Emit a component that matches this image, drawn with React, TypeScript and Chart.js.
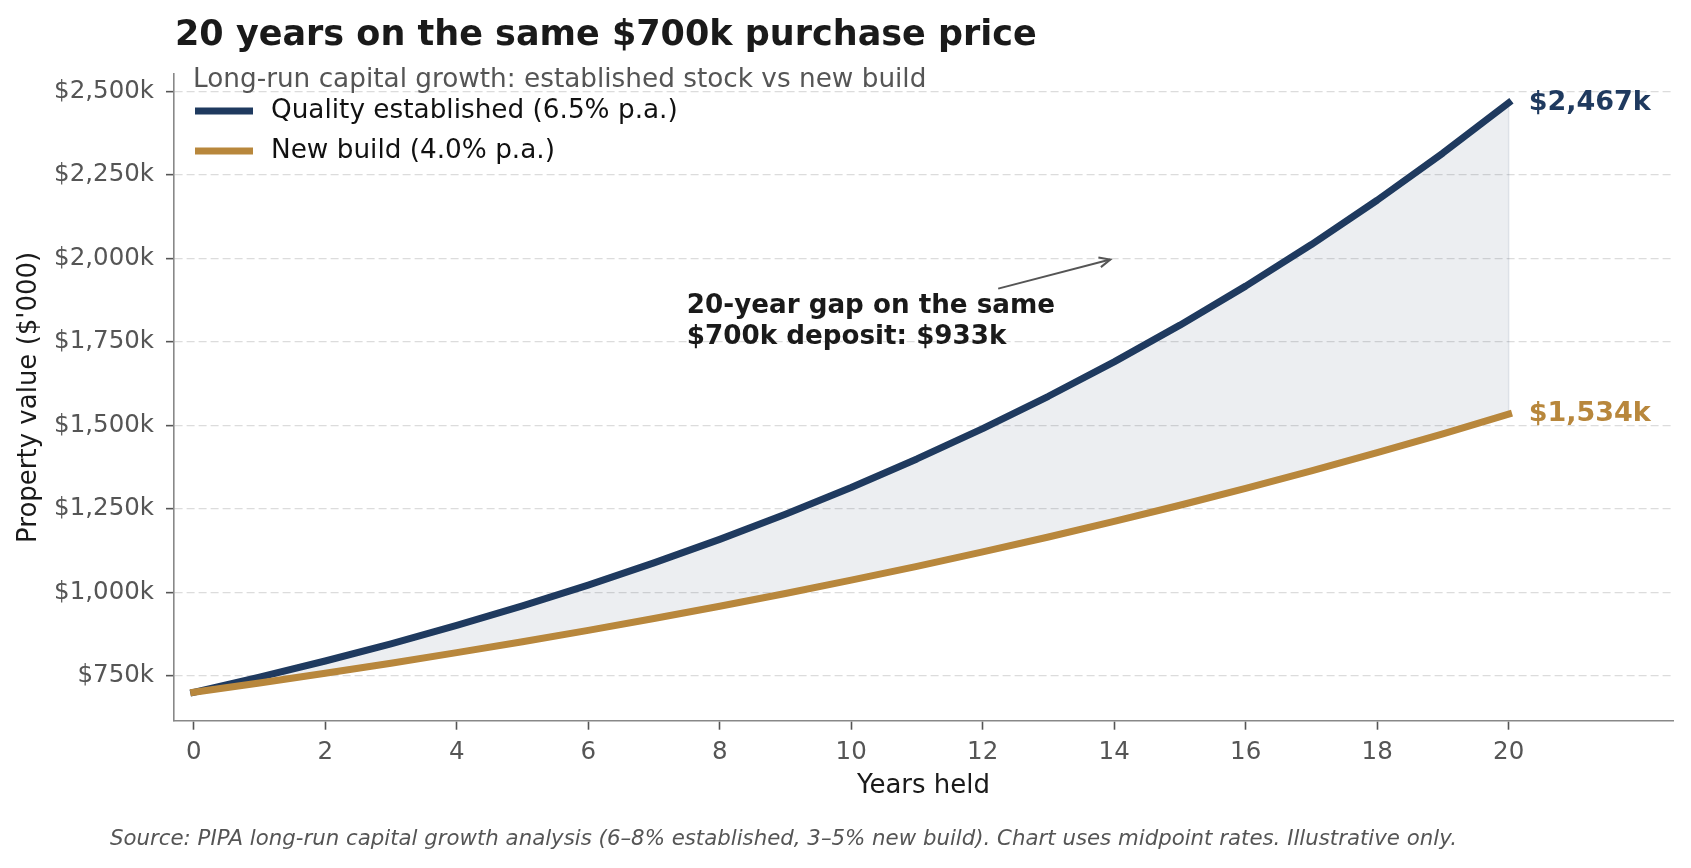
import React, { useEffect, useRef } from "react";
import { Chart, registerables } from "chart.js";

Chart.register(...registerables);

const FONT = "'DejaVu Sans', 'Noto Sans', sans-serif";

// ---- Data ----
const years = [0, 1, 2, 3, 4, 5, 6, 7, 8, 9, 10, 11, 12, 13, 14, 15, 16, 17, 18, 19, 20];
const establishedValues = [
  700, 745.5, 793.96, 845.56, 900.53, 959.06, 1021.4, 1087.79, 1158.5, 1233.8, 1314.0,
  1399.41, 1490.37, 1587.24, 1690.41, 1800.29, 1917.31, 2041.93, 2174.66, 2316.01, 2466.56,
];
const newBuildValues = [
  700, 728, 757.12, 787.4, 818.9, 851.66, 885.72, 921.15, 958.0, 996.32, 1036.17,
  1077.62, 1120.72, 1165.55, 1212.17, 1260.66, 1311.09, 1363.53, 1418.07, 1474.79, 1533.79,
];
const seriesLabels = ["Quality established (6.5% p.a.)", "New build (4.0% p.a.)"];
const xTickValues = [0, 2, 4, 6, 8, 10, 12, 14, 16, 18, 20];
const yTickValues = [750, 1000, 1250, 1500, 1750, 2000, 2250, 2500];
const xRange = [-0.3, 22.5];
const yRange = [615, 2553];
const annotationAnchor = [7.5, 1811];
const arrowTarget = [14, 2000];

const TITLE = "20 years on the same $700k purchase price";
const SUBTITLE = "Long-run capital growth: established stock vs new build";
const SOURCE =
  "Source: PIPA long-run capital growth analysis (6–8% established, 3–5% new build). Chart uses midpoint rates. Illustrative only.";
const X_TITLE = "Years held";
const Y_TITLE = "Property value ($'000)";

const NAVY = "#1f3a5f";
const GOLD = "#b8873c";
const FILL = "rgba(31, 58, 95, 0.085)";

const fmtK = (v: number) => "$" + Math.round(v).toLocaleString("en-US") + "k";

const overlayPlugin = {
  id: "overlay",
  beforeDatasetsDraw(chart: any) {
    const { ctx, scales } = chart;
    const x = scales.x;
    const y = scales.y;
    const last = years.length - 1;
    const px = x.getPixelForValue(years[last]);
    ctx.save();
    ctx.strokeStyle = "rgba(31, 58, 95, 0.12)";
    ctx.lineWidth = 1.5;
    ctx.beginPath();
    ctx.moveTo(px, y.getPixelForValue(establishedValues[last]));
    ctx.lineTo(px, y.getPixelForValue(newBuildValues[last]));
    ctx.stroke();
    ctx.restore();
  },
  afterDraw(chart: any) {
    const { ctx, chartArea, scales } = chart;
    const x = scales.x;
    const y = scales.y;
    const last = years.length - 1;
    ctx.save();

    // Title
    ctx.textAlign = "left";
    ctx.textBaseline = "alphabetic";
    ctx.fillStyle = "#1a1a1a";
    ctx.font = `bold 35px ${FONT}`;
    ctx.fillText(TITLE, chartArea.left + 1, 45);

    // Legend (title + entries) inside plot area, upper left
    const lx = chartArea.left + 19;
    ctx.font = `26.3px ${FONT}`;
    ctx.textBaseline = "middle";
    ctx.fillStyle = "#555555";
    ctx.fillText(SUBTITLE, lx, chartArea.top + 6);
    chart.data.datasets.forEach((ds: any, i: number) => {
      const cy = chartArea.top + 37 + i * 40;
      ctx.strokeStyle = ds.borderColor;
      ctx.lineWidth = 7;
      ctx.lineCap = "butt";
      ctx.beginPath();
      ctx.moveTo(lx + 2, cy);
      ctx.lineTo(lx + 60, cy);
      ctx.stroke();
      ctx.fillStyle = "#111111";
      ctx.fillText(ds.label, lx + 78, cy);
    });

    // End-value labels
    ctx.font = `bold 27px ${FONT}`;
    ctx.textBaseline = "middle";
    const endX = x.getPixelForValue(years[last]) + 20;
    ctx.fillStyle = NAVY;
    ctx.fillText(fmtK(establishedValues[last]), endX, y.getPixelForValue(establishedValues[last]));
    ctx.fillStyle = GOLD;
    ctx.fillText(fmtK(newBuildValues[last]), endX, y.getPixelForValue(newBuildValues[last]));

    // Gap annotation
    const gap = establishedValues[last] - newBuildValues[last];
    const lines = ["20-year gap on the same", `${fmtK(establishedValues[0])} deposit: ${fmtK(gap)}`];
    ctx.font = `bold 26.2px ${FONT}`;
    ctx.fillStyle = "#1a1a1a";
    const ax = x.getPixelForValue(annotationAnchor[0]);
    const ay = y.getPixelForValue(annotationAnchor[1]);
    const lh = 31;
    lines.forEach((l, i) => ctx.fillText(l, ax, ay + (i - 0.5) * lh));
    const w = Math.max(...lines.map((l) => ctx.measureText(l).width));
    const cx = ax + w / 2;
    const cy = ay;
    const tx = x.getPixelForValue(arrowTarget[0]);
    const ty = y.getPixelForValue(arrowTarget[1]);
    const sy = ay - lh - 2;
    const t = (cy - sy) / (cy - ty);
    const sx = cx + t * (tx - cx);
    const dx = tx - sx;
    const dy = ty - sy;
    const len = Math.hypot(dx, dy);
    const ux = dx / len;
    const uy = dy / len;
    const ex = tx - ux * 4;
    const ey = ty - uy * 4;
    ctx.strokeStyle = "#555555";
    ctx.lineWidth = 2;
    ctx.lineCap = "butt";
    ctx.beginPath();
    ctx.moveTo(sx, sy);
    ctx.lineTo(ex, ey);
    ctx.stroke();
    const hl = 11;
    const hw = 5;
    ctx.beginPath();
    ctx.moveTo(ex - ux * hl - uy * hw, ey - uy * hl + ux * hw);
    ctx.lineTo(ex, ey);
    ctx.lineTo(ex - ux * hl + uy * hw, ey - uy * hl - ux * hw);
    ctx.stroke();

    // Source note
    ctx.font = `italic 21.3px ${FONT}`;
    ctx.fillStyle = "#555555";
    ctx.textBaseline = "alphabetic";
    ctx.fillText(SOURCE, 110, 845);

    ctx.restore();
  },
};

export default function App() {
  const ref = useRef<HTMLCanvasElement>(null);

  useEffect(() => {
    if (!ref.current) return;
    const chart = new Chart(ref.current, {
      type: "line",
      data: {
        datasets: [
          {
            label: seriesLabels[0],
            data: years.map((yr, i) => ({ x: yr, y: establishedValues[i] })),
            borderColor: NAVY,
            backgroundColor: FILL,
            borderWidth: 7,
            pointRadius: 0,
            pointHoverRadius: 0,
            fill: "+1",
            order: 1,
            tension: 0,
            borderCapStyle: "square",
            borderJoinStyle: "round",
          },
          {
            label: seriesLabels[1],
            data: years.map((yr, i) => ({ x: yr, y: newBuildValues[i] })),
            borderColor: GOLD,
            backgroundColor: GOLD,
            borderWidth: 7,
            pointRadius: 0,
            pointHoverRadius: 0,
            fill: false,
            order: 0,
            tension: 0,
            borderCapStyle: "square",
            borderJoinStyle: "round",
          },
        ],
      } as any,
      options: {
        animation: false,
        responsive: true,
        maintainAspectRatio: false,
        events: [],
        layout: { padding: { top: 74, left: 0, right: 18, bottom: 0 } },
        plugins: {
          legend: { display: false },
          tooltip: { enabled: false },
          title: { display: false },
        },
        scales: {
          x: {
            type: "linear",
            min: xRange[0],
            max: xRange[1],
            afterBuildTicks: (s: any) => {
              s.ticks = xTickValues.map((v) => ({ value: v }));
            },
            afterFit: (s: any) => {
              s.height = 147.3;
            },
            grid: {
              drawOnChartArea: false,
              drawTicks: true,
              tickLength: 9,
              tickColor: "#555555",
              tickWidth: 1.6,
            },
            border: { display: true, color: "#888888", width: 1.6 },
            ticks: {
              color: "#555555",
              font: { family: FONT, size: 24.5 },
              padding: 8,
              maxRotation: 0,
              autoSkip: false,
              callback: (v: any) => String(v),
            },
            title: {
              display: true,
              text: X_TITLE,
              color: "#1a1a1a",
              font: { family: FONT, size: 26 },
              padding: { top: 0, bottom: 66.4 },
            },
          },
          y: {
            type: "linear",
            min: yRange[0],
            max: yRange[1],
            afterBuildTicks: (s: any) => {
              s.ticks = yTickValues.map((v) => ({ value: v }));
            },
            afterFit: (s: any) => {
              s.width = 174;
            },
            grid: {
              color: "#dcdcdc",
              lineWidth: 1.3,
              drawTicks: true,
              tickLength: 8,
              tickColor: "#555555",
              tickWidth: 1.6,
              tickBorderDash: [],
            },
            border: { display: true, color: "#888888", width: 1.6, dash: [8, 4] },
            ticks: {
              color: "#555555",
              font: { family: FONT, size: 24.5 },
              padding: 12,
              autoSkip: false,
              callback: (v: any) => fmtK(Number(v)),
            },
            title: {
              display: true,
              text: Y_TITLE,
              color: "#1a1a1a",
              font: { family: FONT, size: 26 },
              padding: { top: 13.4, bottom: 0 },
            },
          },
        },
      } as any,
      plugins: [overlayPlugin],
    });
    return () => chart.destroy();
  }, []);

  return (
    <div
      style={{
        position: "fixed",
        left: 0,
        top: 0,
        width: "1691px",
        height: "868px",
        background: "#ffffff",
      }}
    >
      <canvas ref={ref} />
    </div>
  );
}
